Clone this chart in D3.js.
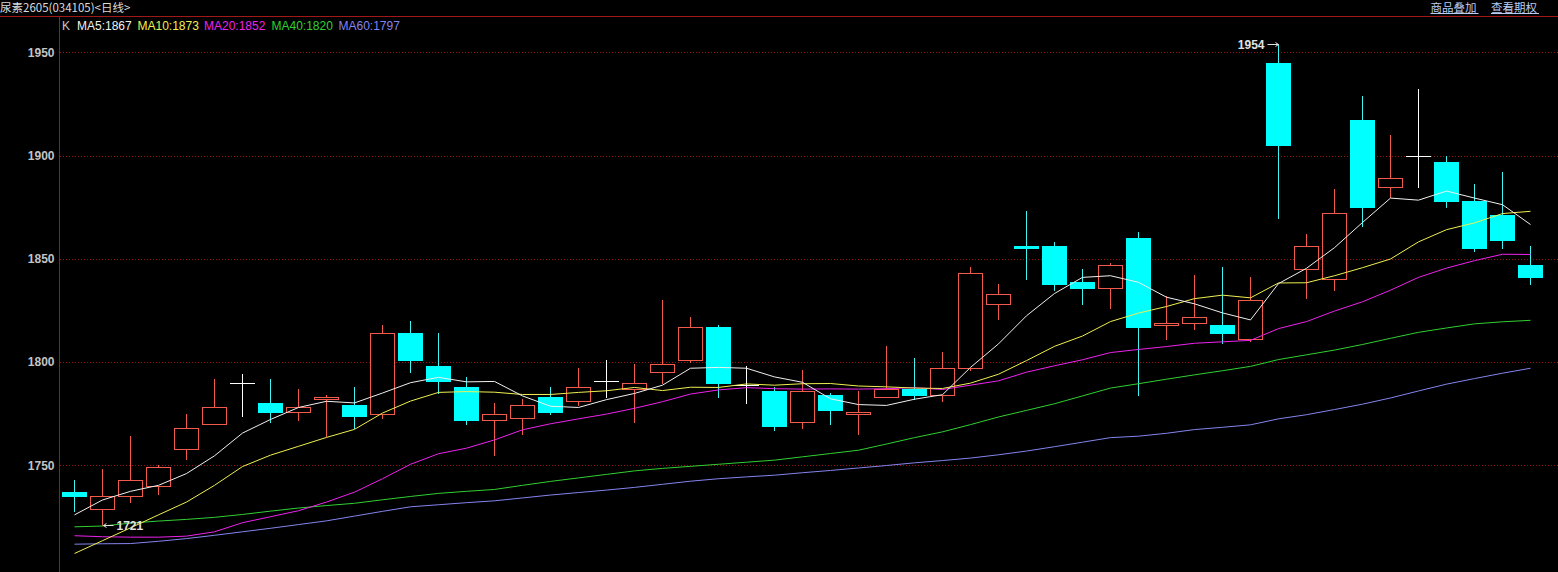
<!DOCTYPE html>
<html><head><meta charset="utf-8">
<script src="https://cdn.jsdelivr.net/npm/d3@7"></script>
<style>html,body{margin:0;padding:0;background:#000;overflow:hidden}</style>
</head><body><svg id="c" width="1558" height="572"></svg>
<script>
// ---- data ----
const opens  = [1737,1729,1735,1740,1758,1770,1790,1780,1776,1782,1779,1775,1814,1798,1788,1772,1773,1783,1781,1791,1787,1795,1801,1817,1789,1786,1771,1784,1775,1783,1787,1784,1797,1828,1856,1856,1839,1836,1860,1818,1819,1818,1811,1945,1845,1840,1917,1885,1900,1897,1878,1871,1847];
const highs  = [1743,1748,1764,1750,1775,1792,1794,1792,1787,1784,1788,1818,1820,1814,1793,1780,1782,1788,1797,1801,1799,1830,1822,1818,1798,1788,1796,1785,1786,1808,1802,1805,1846,1838,1873,1858,1845,1848,1863,1832,1842,1846,1841,1954,1862,1884,1929,1910,1932,1900,1886,1892,1856];
const lows   = [1728,1721,1732,1736,1753,1770,1774,1771,1772,1764,1768,1773,1795,1785,1770,1755,1765,1775,1779,1783,1771,1790,1800,1783,1780,1767,1768,1770,1765,1783,1782,1781,1796,1821,1840,1835,1828,1826,1784,1811,1816,1809,1810,1870,1831,1835,1866,1880,1885,1875,1854,1855,1838];
const closes = [1735,1735,1743,1749,1768,1778,1790,1776,1778,1783,1774,1814,1801,1791,1772,1775,1779,1776,1788,1791,1790,1799,1817,1790,1789,1769,1786,1777,1776,1787,1784,1797,1843,1833,1855,1838,1836,1847,1817,1819,1822,1814,1830,1905,1856,1872,1875,1889,1900,1878,1855,1859,1841];
const ma5  = [1726.0,1733.2,1737.4,1740.3,1746.0,1754.6,1765.6,1772.2,1778.0,1781.0,1780.2,1785.0,1790.0,1792.6,1790.4,1790.6,1783.6,1778.6,1778.0,1781.8,1784.8,1788.8,1797.0,1797.4,1797.0,1792.8,1790.2,1782.2,1779.4,1779.0,1782.0,1784.2,1797.4,1808.8,1822.4,1833.2,1841.0,1841.8,1838.6,1831.4,1828.2,1823.8,1820.4,1838.0,1845.4,1855.4,1867.6,1879.4,1878.4,1882.8,1879.4,1876.2,1866.6];
const ma10 = [1707.3,1713.5,1719.7,1726.0,1732.2,1740.3,1749.4,1754.9,1759.2,1763.5,1767.4,1775.3,1781.1,1785.3,1785.7,1785.4,1784.3,1784.3,1785.3,1786.1,1787.7,1786.2,1787.8,1787.7,1789.4,1788.8,1789.5,1789.6,1788.4,1788.0,1787.4,1787.2,1789.8,1794.1,1800.7,1807.6,1812.6,1819.6,1823.7,1826.9,1830.7,1832.4,1831.1,1838.3,1838.4,1841.8,1845.7,1849.9,1858.2,1864.1,1867.4,1871.9,1873.0];
const ma20 = [1715.9,1715.4,1715.2,1715.2,1715.7,1717.8,1722.2,1725.1,1728.0,1732.2,1737.0,1743.5,1750.5,1755.6,1758.3,1762.3,1767.2,1770.1,1772.5,1774.8,1777.6,1780.8,1784.5,1786.5,1787.6,1787.1,1786.9,1787.0,1786.9,1787.1,1787.6,1786.7,1788.8,1790.9,1795.1,1798.2,1801.1,1804.6,1806.1,1807.5,1809.1,1809.8,1810.5,1816.2,1819.6,1824.7,1829.2,1834.8,1841.0,1845.5,1849.1,1852.2,1852.1];
const ma40 = [1720.2,1720.6,1722.0,1723.0,1723.8,1724.8,1726.2,1727.8,1729.3,1730.5,1731.6,1733.3,1734.9,1736.4,1737.4,1738.3,1740.3,1742.2,1743.9,1745.6,1747.3,1748.5,1749.5,1750.5,1751.5,1752.5,1754.1,1755.7,1757.3,1760.3,1763.4,1766.2,1769.7,1773.4,1776.6,1779.8,1783.6,1787.4,1789.5,1791.7,1793.8,1795.8,1797.9,1801.2,1803.5,1805.8,1808.5,1811.5,1814.4,1816.5,1818.5,1819.5,1820.2];
const ma60 = [1711.8,1712.0,1712.1,1713.2,1714.5,1716.1,1717.8,1719.5,1721.3,1723.1,1725.4,1727.7,1729.9,1730.9,1731.9,1732.8,1734.2,1735.6,1736.8,1738.0,1739.3,1740.8,1742.3,1743.5,1744.4,1745.2,1746.4,1747.5,1748.7,1749.9,1751.2,1752.3,1753.5,1755.1,1756.9,1759.0,1761.2,1763.4,1764.1,1765.5,1767.3,1768.4,1769.6,1772.5,1774.5,1777.0,1779.6,1782.6,1786.0,1789.3,1792.0,1794.6,1797.0];
const yTicks = [1750,1800,1850,1900,1950];
const title = "尿素2605(034105)<日线>";
const legendItems = [
  {text:"K", color:"#c8c8c8"},
  {text:"MA5:1867", color:"#f0f0f0"},
  {text:"MA10:1873", color:"#f0f050"},
  {text:"MA20:1852", color:"#ee22ee"},
  {text:"MA40:1820", color:"#30d030"},
  {text:"MA60:1797", color:"#8484f0"}
];
const links = ["商品叠加","查看期权"];

// ---- chart ----
const W = 1558, H = 572;
const svg = d3.select("#c");
svg.append("rect").attr("width",W).attr("height",H).attr("fill","#000");

const n = closes.length;
const x = d3.scaleBand().domain(d3.range(n)).range([60.3, 60.3 + 28*n]).paddingInner(0.125).paddingOuter(0.0625);
const y = d3.scaleLinear().domain([1750,1950]).range([465.3,52.3]);
const cx = i => Math.round(x(i) + x.bandwidth()/2);
const py = v => Math.round(y(v));

// grid
svg.append("g").selectAll("line").data(yTicks).join("line")
  .attr("x1",60).attr("x2",W)
  .attr("y1",d=>py(d)+0.5).attr("y2",d=>py(d)+0.5)
  .attr("stroke","#9a1010").attr("stroke-width",1).attr("stroke-dasharray","1,2");

// borders
svg.append("line").attr("x1",0).attr("x2",W).attr("y1",16.5).attr("y2",16.5).attr("stroke","#a01818");
svg.append("line").attr("x1",59.5).attr("x2",59.5).attr("y1",16).attr("y2",H).attr("stroke","#a01818");

// y axis
const ax = svg.append("g").attr("transform","translate(59.5,0)")
  .call(d3.axisLeft(y).tickValues(yTicks).tickSize(0).tickPadding(5).tickFormat(d3.format("d")));
ax.select(".domain").remove();
ax.selectAll("text").attr("fill","#c4c4c4").attr("font-family","'Liberation Sans',Arial,sans-serif")
  .attr("font-size",12).attr("font-weight","bold");

// candles
const UP="#f25a4b", DOWN="#00ffff", DOJI="#ffffff";
const kind = i => closes[i] > opens[i] ? "up" : (closes[i] < opens[i] ? "down" : "doji");
const col = i => ({up:UP, down:DOWN, doji:DOJI})[kind(i)];
const cg = svg.append("g");
const idx = d3.range(n);
cg.selectAll("line.w").data(idx).join("line").attr("class","w")
  .attr("x1",i=>cx(i)+0.5).attr("x2",i=>cx(i)+0.5)
  .attr("y1",i=>py(highs[i])).attr("y2",i=>py(lows[i])+1)
  .attr("stroke",i=>kind(i)==="down" ? "#40f4f4" : col(i)).attr("stroke-width",1);
idx.forEach(i=>{
  const k = kind(i);
  const top = py(Math.max(opens[i],closes[i])), bot = py(Math.min(opens[i],closes[i]));
  if (k==="up") {
    cg.append("rect").attr("x",cx(i)-12+0.5).attr("y",top+0.5).attr("width",24).attr("height",Math.max(1,bot-top))
      .attr("fill","#000").attr("stroke",UP).attr("stroke-width",1);
  } else if (k==="down") {
    cg.append("rect").attr("x",cx(i)-12).attr("y",top).attr("width",25).attr("height",Math.max(2,bot-top+1))
      .attr("fill",DOWN);
  } else {
    cg.append("line").attr("x1",cx(i)-12).attr("x2",cx(i)+13).attr("y1",top+0.5).attr("y2",top+0.5)
      .attr("stroke",DOJI).attr("stroke-width",1);
  }
});

// moving averages
const line = d3.line().x((d,i)=>cx(i)+0.5).y(d=>y(d));
[[ma60,"#8484f0"],[ma40,"#30d030"],[ma20,"#ee22ee"],[ma10,"#f0f050"],[ma5,"#f0f0f0"]].forEach(([d,c])=>{
  svg.append("path").datum(d).attr("d",line).attr("fill","none").attr("stroke",c).attr("stroke-width",1);
});

// high / low annotations
const hi = d3.maxIndex(highs), lo = d3.minIndex(lows);
const ann = svg.append("g").attr("font-family","'Liberation Sans',Arial,sans-serif").attr("font-size",12).attr("font-weight","bold").attr("fill","#e2e2e2");
{
  const yy = py(highs[hi]) + 0.5, tip = cx(hi) + 0.5;
  ann.append("text").attr("x",tip-14).attr("y",yy).attr("dy","0.36em").attr("text-anchor","end").text(highs[hi]);
  ann.append("path").attr("d",`M${tip-11},${yy}H${tip} M${tip-3},${yy-2}L${tip},${yy}L${tip-3},${yy+2}`).attr("stroke","#e2e2e2").attr("fill","none");
}
{
  const yy = py(lows[lo]) + 0.5, tip = cx(lo) + 1.5;
  ann.append("path").attr("d",`M${tip},${yy}H${tip+10} M${tip+3},${yy-2}L${tip},${yy}L${tip+3},${yy+2}`).attr("stroke","#e2e2e2").attr("fill","none");
  ann.append("text").attr("x",tip+13).attr("y",yy).attr("dy","0.36em").text(lows[lo]);
}

// title
svg.append("text").attr("x",0).attr("y",11.5).attr("fill","#dcdcdc")
  .attr("font-family","'Noto Sans CJK SC',sans-serif").attr("font-size",11.5).text(title);

// legend
const legX = [62, 77, 137.5, 204, 271.5, 338.5];
svg.append("g").selectAll("text").data(legendItems).join("text")
  .attr("x",(d,i)=>legX[i]).attr("y",30).attr("fill",d=>d.color)
  .attr("font-family","'Liberation Sans',Arial,sans-serif").attr("font-size",12).text(d=>d.text);

// links (underline drawn as separate lines)
const linkX = [1430.5, 1491];
const lg = svg.append("g");
lg.selectAll("text").data(links).join("text")
  .attr("x",(d,i)=>linkX[i]).attr("y",11.5).attr("fill","#b8ccf4")
  .attr("font-family","'Noto Sans CJK SC',sans-serif").attr("font-size",11.5).text(d=>d);
lg.selectAll("line").data(links).join("line")
  .attr("x1",(d,i)=>linkX[i]).attr("x2",(d,i)=>linkX[i]+48)
  .attr("y1",13.5).attr("y2",13.5).attr("stroke","#b8ccf4").attr("stroke-width",1);
</script>
</body></html>
